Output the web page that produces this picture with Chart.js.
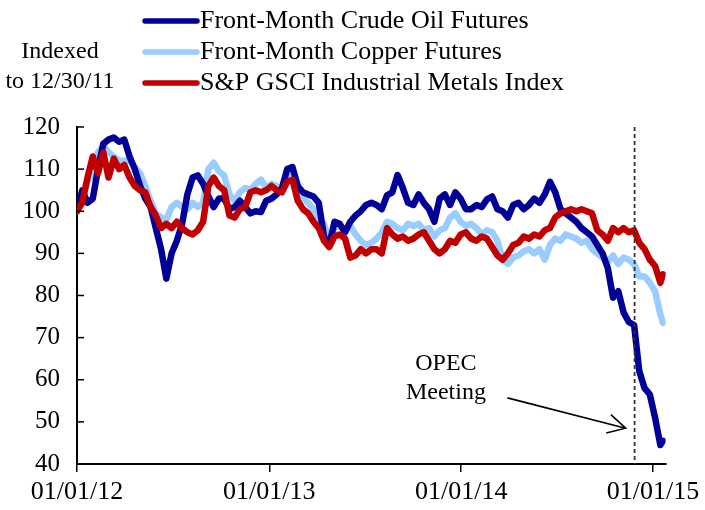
<!DOCTYPE html>
<html>
<head>
<meta charset="utf-8">
<script src="https://cdn.jsdelivr.net/npm/chart.js@4.4.1/dist/chart.umd.min.js"></script>
<style>
  body { margin: 0; background: #fff; }
  #wrap { width: 705px; height: 510px; }
</style>
</head>
<body>
<div id="wrap"><canvas id="myChart" width="705" height="510"></canvas></div>
<script>
// indexed to 12/30/11 = 100, one reading every 10 days starting 01/01/12
let stepDays = 10
let lastDay = 1115
let crude = [
  100, 105, 102, 103, 110, 116, 117, 117.5, 116.5, 117,
  113, 110, 106, 103, 101, 96, 91, 84, 90, 93,
  97, 104, 108, 108.5, 106.5, 103.5, 101, 103, 103, 100.5,
  101, 102.5, 101, 99.5, 100, 99.8, 102.5, 103, 104, 105.5,
  110, 110.5, 106, 104.5, 104, 103.5, 102, 94, 92, 97.5,
  97, 95, 97.5, 99, 100, 101.5, 102, 101.5, 100.5, 103.8,
  104.5, 108.6, 105.5, 102, 101.5, 104, 102, 100.5, 97.5, 103,
  104, 101.5, 104.5, 103, 100.5, 100.5, 101.5, 101, 102.8, 103.5,
  100.5, 100, 98.5, 101.5, 102, 100.5, 101.5, 103, 102, 104,
  107, 104.5, 100.5, 99.5, 98.5, 97.5, 96, 95, 94, 92,
  90, 86.5, 79.5, 81, 76, 73.7, 73, 62, 58, 56.5,
  51, 44.5, 45.5
]
let copper = [
  100, 103, 107, 109, 114, 115.5, 114, 113, 112, 112,
  112, 110.5, 109, 106, 102.5, 99.5, 98.5, 98, 101, 102,
  101, 100.5, 102, 101, 102, 110, 111.5, 109.5, 108.5, 104,
  102.5, 104.5, 105.5, 105, 106.5, 107.5, 105.5, 106.5, 106, 105,
  109, 109, 105, 103, 102, 100.5, 98, 97, 92.5, 96,
  96.5, 95.5, 96.5, 94.5, 93, 92, 92.5, 93.5, 95, 97.5,
  97, 96, 95.5, 97, 96.5, 97, 95.5, 96, 94, 95.5,
  96, 98.5, 99.5, 97.5, 96.5, 97, 96, 94.5, 95.5, 95,
  93, 88.5, 87.5, 89, 89.5, 90.5, 91, 90, 91, 88.5,
  92, 93.5, 93, 94.5, 94, 93.5, 92.5, 93, 91, 90,
  89, 88, 89.5, 87.5, 89, 88.5, 87.5, 84.5, 84.5, 83,
  81, 75.5, 73.5
]
let metals = [
  100, 102, 108, 113, 109, 114, 108, 112.5, 110, 111,
  108, 106, 105, 104.5, 101, 99, 96, 97, 96, 97.5,
  96, 95, 94.5, 95.5, 97.5, 106, 108, 106, 105, 99,
  98.5, 100.5, 101, 104.5, 105, 104.5, 105, 106, 105, 104.5,
  107, 107.5, 102.5, 100.5, 99.5, 97.5, 96, 93, 91.5, 94,
  94.5, 93.5, 89, 89.5, 91, 90, 91, 91, 90, 96,
  94.5, 93.5, 94, 93, 93.5, 94.5, 95, 93, 91, 90,
  91, 93, 92.5, 94.5, 95, 93.5, 93, 94, 93.5, 91.5,
  89.5, 88.5, 90, 92, 92.5, 94, 93.5, 94.5, 94, 95.5,
  96, 98.5, 99.5, 100, 100.5, 100, 100.5, 100, 99.5, 95.5,
  94.5, 93, 96, 95, 96, 95, 95.5, 92.5, 91, 88.5,
  87, 83, 85
]
let seriesNames = ['Front-Month Crude Oil Futures', 'Front-Month Copper Futures', 'S&P GSCI Industrial Metals Index']
let seriesColors = ['#000099', '#99ccff', '#c00000']
let tickDays = [0, 366, 731, 1096]
let tickLabels = ['01/01/12', '01/01/13', '01/01/14', '01/01/15']
let opecDay = 1061 // 11/27/14

let days = crude.map((v, i) => Math.min(i * stepDays, lastDay))
let serif = 'Liberation Serif, Times New Roman, serif'

function toPoints(values) {
  return values.map((v, i) => ({x: days[i], y: v}))
}

const extras = {
  id: 'extras',
  afterDatasetsDraw(chart) {
    let ctx = chart.ctx, xs = chart.scales.x, ys = chart.scales.y, area = chart.chartArea
    ctx.save()
    // y ticks point inward
    ctx.strokeStyle = '#000'
    ctx.lineWidth = 1.5
    ys.ticks.forEach(t => {
      let y = ys.getPixelForValue(t.value)
      ctx.beginPath(); ctx.moveTo(area.left, y); ctx.lineTo(area.left + 7, y); ctx.stroke()
    })
    // OPEC meeting line
    let xo = xs.getPixelForValue(opecDay)
    ctx.setLineDash([4, 3])
    ctx.strokeStyle = '#333'
    ctx.lineWidth = 1.8
    ctx.beginPath(); ctx.moveTo(xo, area.top); ctx.lineTo(xo, area.bottom); ctx.stroke()
    ctx.setLineDash([])
    // arrow
    let x1 = xs.getPixelForValue(819), y1 = ys.getPixelForValue(55.7)
    let x2 = xs.getPixelForValue(1044), y2 = ys.getPixelForValue(48.5)
    let a = Math.atan2(y2 - y1, x2 - x1)
    ctx.strokeStyle = '#000'
    ctx.lineWidth = 1.6
    ctx.beginPath(); ctx.moveTo(x1, y1); ctx.lineTo(x2, y2); ctx.stroke()
    ctx.beginPath()
    ctx.moveTo(x2 - 20 * Math.cos(a - 0.49), y2 - 20 * Math.sin(a - 0.49))
    ctx.lineTo(x2, y2)
    ctx.lineTo(x2 - 20 * Math.cos(a + 0.49), y2 - 20 * Math.sin(a + 0.49))
    ctx.stroke()
    // texts
    ctx.fillStyle = '#000'
    ctx.font = '24px ' + serif
    ctx.textAlign = 'center'
    ctx.textBaseline = 'middle'
    let xt = xs.getPixelForValue(702)
    ctx.fillText('OPEC', xt, ys.getPixelForValue(63.8))
    ctx.fillText('Meeting', xt, ys.getPixelForValue(57))
    ctx.fillText('Indexed', 60, 52)
    ctx.fillText('to 12/30/11', 60, 82)
    // legend
    ctx.textAlign = 'left'
    ctx.font = '26px ' + serif
    ctx.lineCap = 'round'
    for (let i = 0; i < seriesNames.length; ++i) {
      let y = 21 + i * 31
      ctx.strokeStyle = seriesColors[i]
      ctx.lineWidth = 5.5
      ctx.beginPath(); ctx.moveTo(145, y); ctx.lineTo(197, y); ctx.stroke()
      ctx.fillText(seriesNames[i], 200, y)
    }
    ctx.restore()
  }
}

const config = {
  type: 'line',
  data: {
    datasets: [
      {label: seriesNames[0], data: toPoints(crude), borderColor: seriesColors[0], borderWidth: 6.5, order: 2},
      {label: seriesNames[1], data: toPoints(copper), borderColor: seriesColors[1], borderWidth: 6.5, order: 3},
      {label: seriesNames[2], data: toPoints(metals), borderColor: seriesColors[2], borderWidth: 6.5, order: 1}
    ]
  },
  options: {
    responsive: false,
    animation: false,
    devicePixelRatio: 1,
    layout: {padding: {top: 127, right: 37, left: 0, bottom: 0}},
    plugins: {legend: {display: false}, tooltip: {enabled: false}},
    elements: {
      point: {radius: 0},
      line: {tension: 0, borderJoinStyle: 'round', borderCapStyle: 'round'}
    },
    scales: {
      x: {
        type: 'linear', min: 0, max: 1120,
        afterBuildTicks: s => { s.ticks = tickDays.map(v => ({value: v})) },
        afterFit: s => { s.height = 46 },
        ticks: {autoSkip: false, maxRotation: 0, padding: 5, color: '#000',
          font: {family: serif, size: 26}, callback: (v, i) => tickLabels[i]},
        grid: {drawOnChartArea: false, tickLength: 8, color: '#000', lineWidth: 1.5},
        border: {color: '#000', width: 2}
      },
      y: {
        min: 40, max: 120,
        afterFit: s => { s.width = 77 },
        ticks: {stepSize: 10, padding: 9, color: '#000', font: {family: serif, size: 25}},
        grid: {display: false},
        border: {color: '#000', width: 2}
      }
    }
  },
  plugins: [extras]
}

new Chart(document.getElementById('myChart'), config)
</script>
</body>
</html>
